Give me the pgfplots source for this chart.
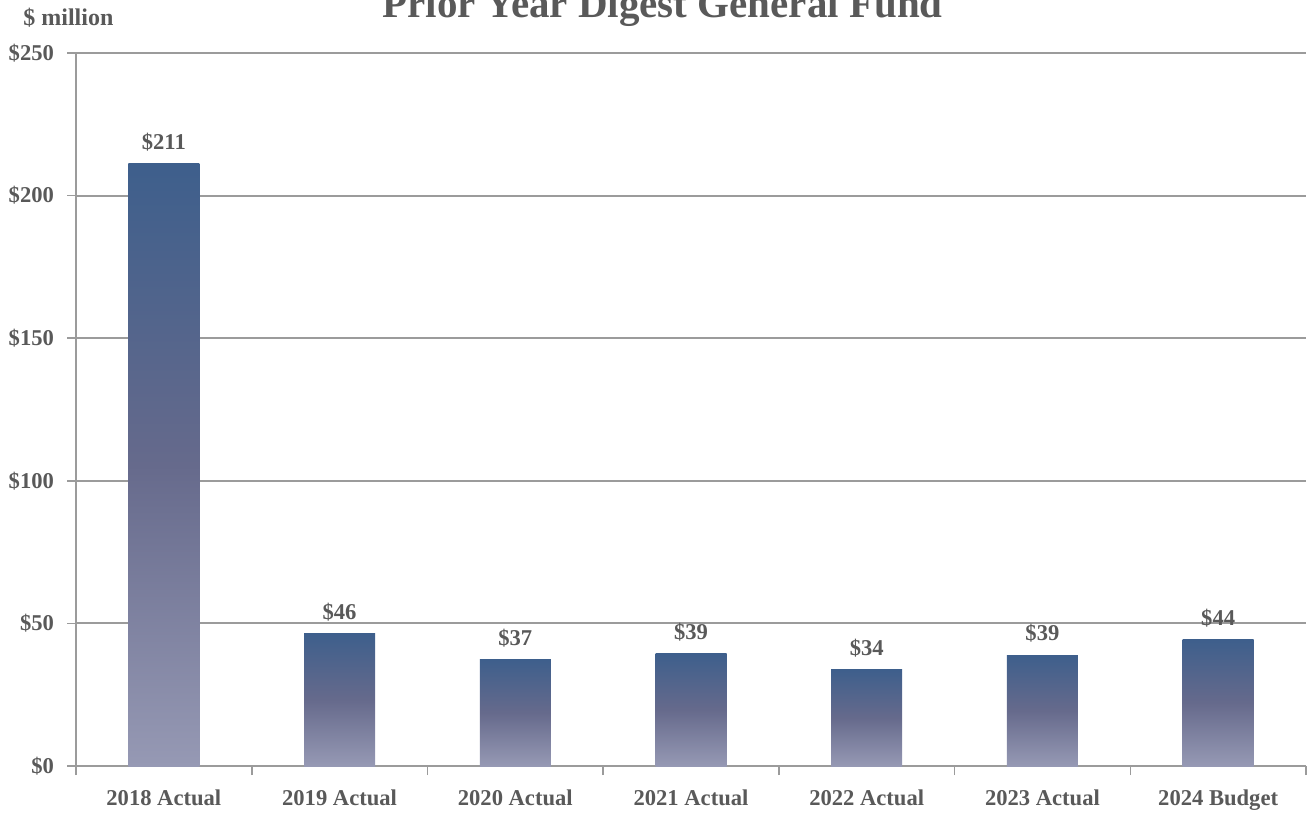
\documentclass[border=0pt]{standalone}
\usepackage{fontspec}
\setmainfont{Liberation Serif}
\usepackage{pgfplots}
\pgfplotsset{compat=1.18}
\definecolor{txt}{RGB}{89,89,89}
\definecolor{gridc}{RGB}{155,155,155}
\definecolor{bartop}{RGB}{62,95,140}
\definecolor{barmid}{RGB}{102,106,140}
\definecolor{barbot}{RGB}{150,153,180}
\pgfplotsset{barst/.style={ybar, bar width=35.5pt, bar shift=0pt, draw=none, top color=bartop, bottom color=barbot, middle color=barmid}}
\begin{document}
\begin{tikzpicture}
\begin{axis}[
  at={(0,0)}, anchor=south west,
  scale only axis, width=615pt, height=356.5pt,
  xmin=-0.5, xmax=6.5, ymin=0, ymax=250,
  axis lines*=left,
  axis line style={draw=gridc, line width=1pt},
  xtick={-0.5,0.5,1.5,2.5,3.5,4.5,5.5,6.5},
  x tick label as interval,
  xticklabels={2018 Actual,2019 Actual,2020 Actual,2021 Actual,2022 Actual,2023 Actual,2024 Budget},
  ytick={0,50,100,150,200,250},
  yticklabel={\$\pgfmathprintnumber{\tick}},
  /pgf/number format/assume math mode=true,
  tick align=outside,
  major tick length=4.5pt,
  tick style={draw=gridc, line width=0.8pt},
  ymajorgrids,
  grid style={draw=gridc, line width=1pt},
  ticklabel style={font=\fontsize{11.3}{13}\selectfont\bfseries, text=txt},
  xticklabel style={yshift=-4pt},
  yticklabel style={xshift=-3pt},
  nodes near coords={\$\pgfmathprintnumber[fixed,precision=0]{\pgfplotspointmeta}},
  nodes near coords style={font=\fontsize{11.3}{13}\selectfont\bfseries, text=txt, anchor=south, yshift=3pt},
  clip=false,
]
\addplot[barst] coordinates {(0,211.1)};
\addplot[barst] coordinates {(1,46.3)};
\addplot[barst] coordinates {(2,37.2)};
\addplot[barst] coordinates {(3,39.3)};
\addplot[barst] coordinates {(4,33.7)};
\addplot[barst] coordinates {(5,38.9)};
\addplot[barst] coordinates {(6,44.2)};
\end{axis}
\node[anchor=base west, inner sep=0pt, text=txt, font=\fontsize{12}{14}\selectfont\bfseries] at (-26.5pt,370pt) {\$ million};
\node[anchor=base, inner sep=0pt, text=txt, font=\fontsize{20.5}{24}\selectfont\bfseries] at (293.25pt,374pt) {Prior Year Digest General Fund};
\pgfresetboundingbox
\useasboundingbox (-38pt,-24pt) rectangle (617pt,383pt);
\end{tikzpicture}
\end{document}
